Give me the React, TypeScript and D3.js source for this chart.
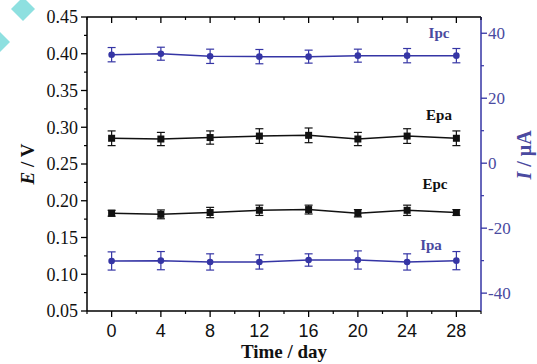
import React, { useEffect, useRef } from 'react'
import * as d3 from 'd3'

const days = [0, 4, 8, 12, 16, 20, 24, 28]

// potentials (V), left axis
const epa = [0.285, 0.284, 0.286, 0.288, 0.289, 0.284, 0.288, 0.285]
const epaErr = [0.01, 0.009, 0.009, 0.01, 0.01, 0.009, 0.01, 0.01]
const epc = [0.183, 0.1815, 0.184, 0.187, 0.188, 0.183, 0.187, 0.184]
const epcErr = [0.004, 0.006, 0.007, 0.007, 0.006, 0.005, 0.007, 0.004]

// currents (uA), right axis
const ipc = [33.4, 33.7, 32.9, 32.8, 32.8, 33.1, 33.1, 33.1]
const ipcErr = [2.2, 2.0, 2.2, 2.2, 2.0, 2.0, 2.2, 2.2]
const ipa = [-30.1, -30.0, -30.4, -30.4, -29.8, -29.8, -30.4, -30.0]
const ipaErr = [2.8, 2.8, 2.5, 2.2, 1.9, 2.8, 2.5, 2.8]

const leftTicks = [0.05, 0.1, 0.15, 0.2, 0.25, 0.3, 0.35, 0.4, 0.45]
const rightTicks = [-40, -20, 0, 20, 40]
const xTicks = [0, 4, 8, 12, 16, 20, 24, 28]

const W = 537
const H = 364
const BLUE = '#3535a5'
const BLUE_TXT = '#4a4aa0'
const SERIF = '"Liberation Serif", "Times New Roman", "DejaVu Serif", serif'

export default function App() {
  const ref = useRef<SVGSVGElement>(null)

  useEffect(() => {
    if (!ref.current) return
    const svg = d3.select(ref.current)
    svg.selectAll('*').remove()

    const left = 87
    const right = 481
    const top = 17
    const bottom = 311

    const x = d3.scaleLinear().domain([-2, 30]).range([left, right])
    const yL = d3.scaleLinear().domain([0.05, 0.45]).range([bottom, top])
    const yR = d3.scaleLinear().domain([-45.5, 45]).range([bottom, top])

    svg.append('rect').attr('width', W).attr('height', H).attr('fill', '#fff')

    // watermark diamonds
    const diamond = (cx: number, cy: number, r: number) =>
      `M${cx},${cy - r}L${cx + r},${cy}L${cx},${cy + r}L${cx - r},${cy}Z`
    svg.append('path').attr('d', diamond(23, 9, 12)).attr('fill', '#8ee0e0')
    svg.append('path').attr('d', diamond(0, 42, 10)).attr('fill', '#8ee0e0')

    const minor = d3.range(-2, 31, 2).filter(d => d % 4 !== 0)

    // frame
    svg.append('line').attr('x1', left).attr('x2', right).attr('y1', top).attr('y2', top).attr('stroke', '#000').attr('stroke-width', 1.5)
    svg.append('line').attr('x1', left).attr('x2', right).attr('y1', bottom).attr('y2', bottom).attr('stroke', '#000').attr('stroke-width', 1.5)
    svg.append('line').attr('x1', left).attr('x2', left).attr('y1', top).attr('y2', bottom).attr('stroke', '#000').attr('stroke-width', 1.5)
    svg.append('line').attr('x1', right).attr('x2', right).attr('y1', top).attr('y2', bottom).attr('stroke', BLUE).attr('stroke-width', 1.5)

    // bottom + top ticks
    xTicks.forEach(t => {
      svg.append('line').attr('x1', x(t)).attr('x2', x(t)).attr('y1', bottom).attr('y2', bottom + 6).attr('stroke', '#000').attr('stroke-width', 1.3)
      svg.append('line').attr('x1', x(t)).attr('x2', x(t)).attr('y1', top).attr('y2', top + 6).attr('stroke', '#000').attr('stroke-width', 1.3)
      svg.append('text').attr('x', x(t)).attr('y', bottom + 26).attr('text-anchor', 'middle')
        .style('font-family', '"Liberation Sans", Arial, sans-serif').style('font-size', '18px').attr('fill', '#111').text(String(t))
    })
    minor.forEach(t => {
      svg.append('line').attr('x1', x(t)).attr('x2', x(t)).attr('y1', bottom).attr('y2', bottom + 3).attr('stroke', '#000').attr('stroke-width', 1.2)
      svg.append('line').attr('x1', x(t)).attr('x2', x(t)).attr('y1', top).attr('y2', top + 3).attr('stroke', '#000').attr('stroke-width', 1.2)
    })

    // left axis
    leftTicks.forEach(t => {
      svg.append('line').attr('x1', left - 6).attr('x2', left).attr('y1', yL(t)).attr('y2', yL(t)).attr('stroke', '#000').attr('stroke-width', 1.3)
      svg.append('text').attr('x', left - 9).attr('y', yL(t)).attr('dy', '0.35em').attr('text-anchor', 'end')
        .style('font-family', SERIF).style('font-size', '18px').attr('fill', '#111').text(t.toFixed(2))
    })
    d3.range(0.075, 0.45, 0.05).forEach(t => {
      svg.append('line').attr('x1', left - 3).attr('x2', left).attr('y1', yL(t)).attr('y2', yL(t)).attr('stroke', '#000').attr('stroke-width', 1.2)
    })

    // right axis
    rightTicks.forEach(t => {
      svg.append('line').attr('x1', right).attr('x2', right + 6).attr('y1', yR(t)).attr('y2', yR(t)).attr('stroke', BLUE).attr('stroke-width', 1.3)
      svg.append('text').attr('x', right + 7).attr('y', yR(t)).attr('dy', '0.35em').attr('text-anchor', 'start')
        .style('font-family', SERIF).style('font-size', '17px').attr('fill', BLUE_TXT).text(String(t))
    })
    ;[-30, -10, 10, 30].forEach(t => {
      svg.append('line').attr('x1', right).attr('x2', right + 3).attr('y1', yR(t)).attr('y2', yR(t)).attr('stroke', BLUE).attr('stroke-width', 1.2)
    })

    // axis titles
    const yt = svg.append('text').attr('transform', `translate(34,${(top + bottom) / 2}) rotate(-90)`).attr('text-anchor', 'middle')
      .style('font-family', SERIF).style('font-size', '19px').style('font-weight', 'bold').attr('fill', '#111')
    yt.append('tspan').style('font-style', 'italic').text('E')
    yt.append('tspan').text(' / V')

    const rt = svg.append('text').attr('transform', 'translate(531,155) rotate(-90)').attr('text-anchor', 'middle')
      .style('font-family', SERIF).style('font-size', '20px').style('font-weight', 'bold').attr('fill', BLUE_TXT)
    rt.append('tspan').style('font-style', 'italic').text('I')
    rt.append('tspan').text(' / μA')

    svg.append('text').attr('x', (left + right) / 2).attr('y', 358).attr('text-anchor', 'middle')
      .style('font-family', SERIF).style('font-size', '19px').style('font-weight', 'bold').attr('fill', '#111')
      .text('Time / day')

    // series
    const drawSeries = (
      vals: number[], errs: number[], y: d3.ScaleLinear<number, number>, color: string, marker: 'square' | 'circle',
    ) => {
      const line = d3.line<number>().x((_, i) => x(days[i])).y(d => y(d))
      svg.append('path').attr('d', line(vals)).attr('fill', 'none').attr('stroke', color).attr('stroke-width', 1.5)
      vals.forEach((v, i) => {
        const cx = x(days[i])
        const y1 = y(v + errs[i])
        const y2 = y(v - errs[i])
        svg.append('line').attr('x1', cx).attr('x2', cx).attr('y1', y1).attr('y2', y2).attr('stroke', color).attr('stroke-width', 1.2)
        ;[y1, y2].forEach(yy => {
          svg.append('line').attr('x1', cx - 4).attr('x2', cx + 4).attr('y1', yy).attr('y2', yy).attr('stroke', color).attr('stroke-width', 1.2)
        })
        if (marker === 'square') {
          svg.append('rect').attr('x', cx - 3.5).attr('y', y(v) - 3.5).attr('width', 7).attr('height', 7).attr('fill', color)
        } else {
          svg.append('circle').attr('cx', cx).attr('cy', y(v)).attr('r', 3.3).attr('fill', color)
        }
      })
    }

    drawSeries(ipc, ipcErr, yR, BLUE, 'circle')
    drawSeries(epa, epaErr, yL, '#111', 'square')
    drawSeries(epc, epcErr, yL, '#111', 'square')
    drawSeries(ipa, ipaErr, yR, BLUE, 'circle')

    // labels
    const lab = (tx: number, ty: number, text: string, color: string) =>
      svg.append('text').attr('x', tx).attr('y', ty).attr('text-anchor', 'middle')
        .style('font-family', SERIF).style('font-size', '15px').style('font-weight', 'bold')
        .attr('fill', color).text(text)
    lab(439, 38, 'Ipc', BLUE_TXT)
    lab(439, 120, 'Epa', '#111')
    lab(435, 189, 'Epc', '#111')
    lab(431, 250, 'Ipa', BLUE_TXT)
  }, [])

  return (
    <svg ref={ref} width={W} height={H} style={{ position: 'absolute', left: 0, top: 0 }} />
  )
}
